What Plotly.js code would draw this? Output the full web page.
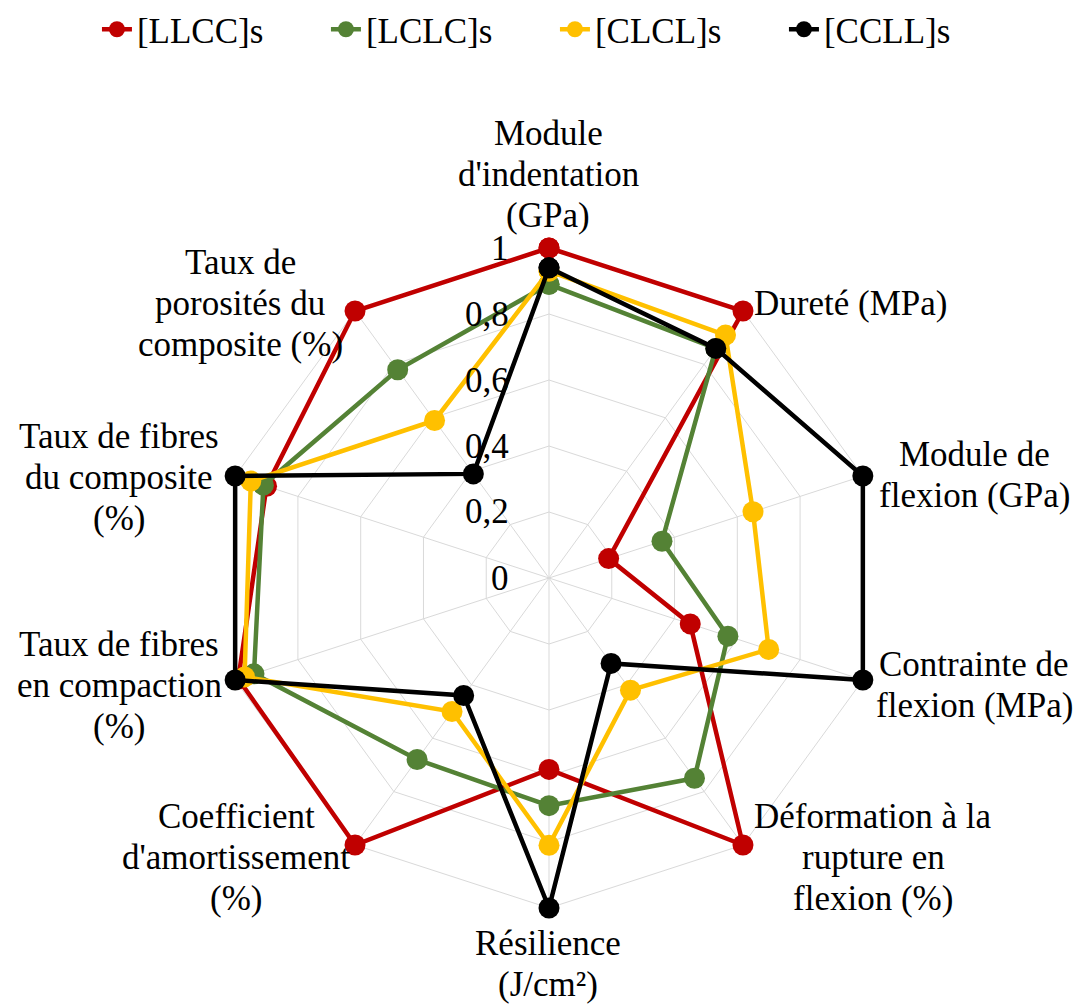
<!DOCTYPE html>
<html>
<head>
<meta charset="utf-8">
<script src="https://cdn.plot.ly/plotly-3.0.1.min.js"></script>
<style>
  body { margin: 0; background: #fff; }
  #chart { width: 1086px; height: 1005px; }
</style>
</head>
<body>
<div id="chart"></div>
<script>
// axes of the radar, clockwise from the top
const categories = [
  "Module d'indentation (GPa)",
  'Dureté (MPa)',
  'Module de flexion (GPa)',
  'Contrainte de flexion (MPa)',
  'Déformation à la rupture en flexion (%)',
  'Résilience (J/cm²)',
  "Coefficient d'amortissement (%)",
  'Taux de fibres en compaction (%)',
  'Taux de fibres du composite (%)',
  'Taux de porosités du composite (%)'
];

// how the labels wrap on the picture
const labelLines = [
  ['Module', "d'indentation", '(GPa)'],
  ['Dureté (MPa)'],
  ['Module de', 'flexion (GPa)'],
  ['Contrainte de', 'flexion (MPa)'],
  ['Déformation à la', 'rupture en', 'flexion (%)'],
  ['Résilience', '(J/cm²)'],
  ['Coefficient', "d'amortissement", '(%)'],
  ['Taux de fibres', 'en compaction', '(%)'],
  ['Taux de fibres', 'du composite', '(%)'],
  ['Taux de', 'porosités du', 'composite (%)']
];

const seriesNames = ['[LLCC]s', '[LCLC]s', '[CLCL]s', '[CCLL]s'];
const llcc = [1.0, 1.0, 0.19, 0.45, 1.0, 0.58, 1.0, 0.99, 0.90, 1.0];
const lclc = [0.89, 0.86, 0.36, 0.57, 0.75, 0.69, 0.68, 0.94, 0.91, 0.78];
const clcl = [0.93, 0.91, 0.65, 0.70, 0.42, 0.81, 0.50, 0.97, 0.95, 0.59];
const ccll = [0.94, 0.86, 1.0, 1.0, 0.32, 1.0, 0.44, 1.0, 1.0, 0.39];
const radialTicks = [0, 0.2, 0.4, 0.6, 0.8, 1];

const W = 1086, H = 1005;
const colors = ['#C00000', '#548235', '#FFC000', '#000000'];
const fontSize = 35;
const serif = 'Liberation Serif';

// centre of the radar and radius of the 1 ring, pixels
const cx0 = 549, cy0 = 578, R = 330;
const rMax = 1.012; // a little room so lines on the outer ring are not clipped

// label block centres in pixels, and anchor
const labelPos = [
  [548, 174, 'center'],
  [752, 303, 'left'],
  [974, 475, 'center'],
  [974, 685, 'center'],
  [873, 857, 'center'],
  [548, 964, 'center'],
  [236, 857, 'center'],
  [119, 685, 'center'],
  [119, 477, 'center'],
  [240, 303, 'center']
];
const linePitch = 41;

const closeLoop = arr => arr.concat([arr[0]]);

const traces = [llcc, lclc, clcl, ccll].map((vals, i) => ({
  type: 'scatterpolar',
  name: seriesNames[i],
  r: closeLoop(vals),
  theta: closeLoop(categories),
  mode: 'lines+markers',
  line: { color: colors[i], width: 4.5 },
  marker: { color: colors[i], size: 21 },
  cliponaxis: false
}));

const notes = [];
labelLines.forEach((lines, i) => {
  const [cx, cy, anchor] = labelPos[i];
  lines.forEach((txt, j) => {
    const y = cy + (j - (lines.length - 1) / 2) * linePitch;
    notes.push({
      text: txt,
      x: cx / W, y: 1 - y / H,
      xref: 'paper', yref: 'paper',
      xanchor: anchor, yanchor: 'middle',
      showarrow: false,
      font: { family: serif, size: fontSize, color: '#000' }
    });
  });
});

// radial value labels sit well to the left of the vertical spoke
radialTicks.forEach(v => {
  const y = cy0 - v * R;
  notes.push({
    text: String(v).replace('.', ','),
    x: (cx0 - 38) / W, y: 1 - y / H,
    xref: 'paper', yref: 'paper',
    xanchor: 'right', yanchor: 'middle',
    align: 'right',
    showarrow: false,
    font: { family: serif, size: fontSize, color: '#000' }
  });
});

const rPx = R * rMax;

const layout = {
  width: W,
  height: H,
  margin: { l: 0, r: 0, t: 0, b: 0 },
  paper_bgcolor: '#fff',
  showlegend: true,
  legend: {
    orientation: 'h',
    x: 0.511, xanchor: 'center',
    y: 1.0, yanchor: 'top',
    entrywidth: 184,
    font: { family: serif, size: fontSize, color: '#000' }
  },
  polar: {
    domain: {
      x: [(cx0 - rPx) / W, (cx0 + rPx) / W],
      y: [1 - (cy0 + rPx) / H, 1 - (cy0 - rPx) / H]
    },
    gridshape: 'linear',
    bgcolor: '#fff',
    angularaxis: {
      rotation: 90,
      direction: 'clockwise',
      showticklabels: false,
      ticks: '',
      gridcolor: '#D9D9D9',
      gridwidth: 1.3,
      showline: false,
      layer: 'below traces'
    },
    radialaxis: {
      range: [0, rMax],
      tickvals: radialTicks,
      angle: 90,
      showticklabels: false,
      ticks: '',
      showline: false,
      gridcolor: '#D9D9D9',
      gridwidth: 1.3,
      layer: 'below traces'
    }
  },
  annotations: notes
};

// make sure every svg text really uses the serif face
function forceSerif() {
  document.querySelectorAll('#chart text').forEach(t => {
    t.style.setProperty('font-family', "'Liberation Serif', serif", 'important');
  });
}

Plotly.newPlot('chart', traces, layout, { displayModeBar: false }).then(forceSerif);
forceSerif();
</script>
</body>
</html>
